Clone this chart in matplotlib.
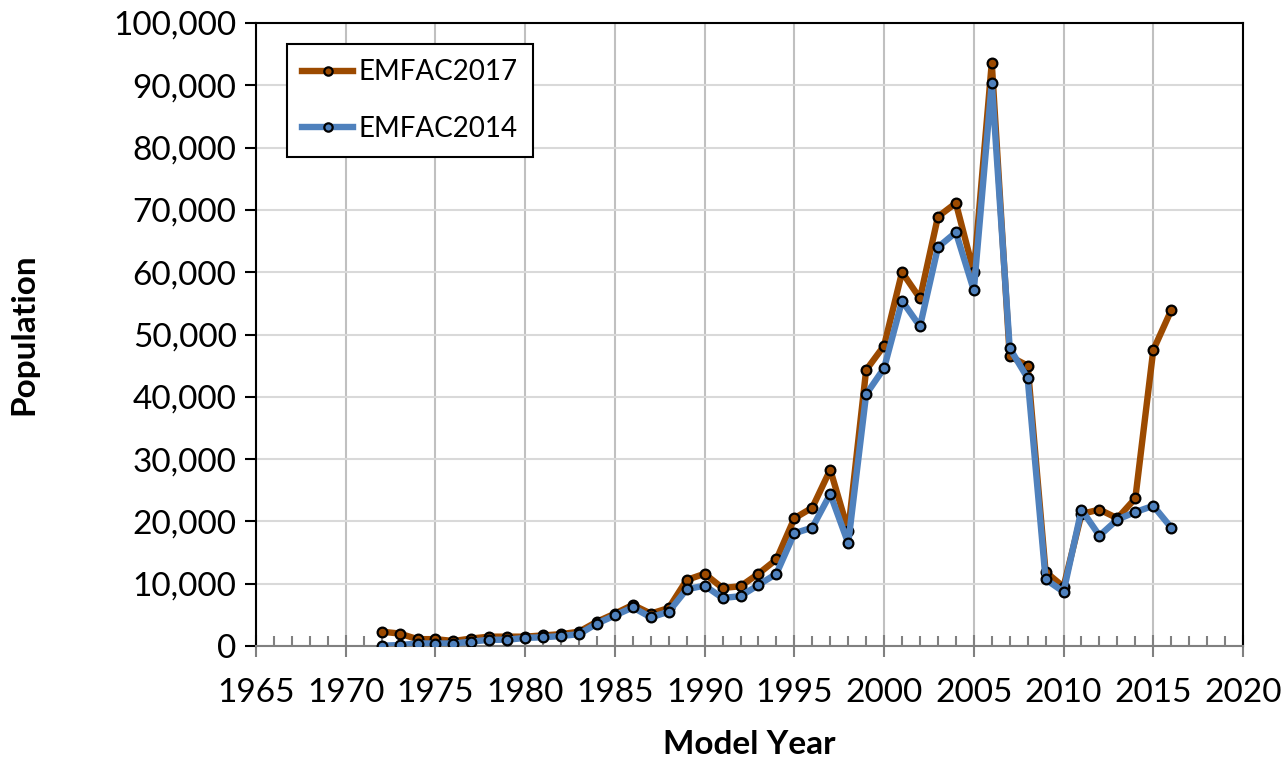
import matplotlib
matplotlib.use("Agg")
import matplotlib.pyplot as plt
from matplotlib.ticker import MultipleLocator, FuncFormatter

# model years and population per model year
years = list(range(1972, 2017))

emfac2017 = [2300, 2000, 1100, 1100, 800, 1200, 1500, 1500, 1500, 1700,
             1900, 2300, 3900, 5200, 6600, 5200, 6100, 10600, 11600, 9300,
             9600, 11600, 13900, 20500, 22200, 28300, 18500, 44300, 48200, 60000,
             55800, 68900, 71100, 60000, 93600, 46500, 45000, 11900, 9500, 21200,
             21900, 20500, 23700, 47500, 53900]

emfac2014 = [50, 150, 400, 400, 400, 700, 1000, 1000, 1300, 1400,
             1600, 1900, 3600, 4900, 6200, 4600, 5500, 9100, 9700, 7700,
             8000, 9800, 11600, 18100, 19000, 24400, 16500, 40400, 44600, 55400,
             51300, 64000, 66400, 57100, 90400, 47800, 43000, 10700, 8700, 21900,
             17700, 20300, 21500, 22500, 19000]

series_labels = ["EMFAC2017", "EMFAC2014"]

plt.rcParams['font.family'] = ['Lato', 'DejaVu Sans']

fig = plt.figure(figsize=(12.85, 7.62), dpi=100)
ax = fig.add_axes([256 / 1285, 1 - 646 / 762, (1243 - 256) / 1285, (646 - 23) / 762])

ax.plot(years, emfac2017, color='#9c4a00', lw=4.6, marker='o', ms=7,
        mfc='#9c4a00', mec='black', mew=1.6, label=series_labels[0], zorder=3)
ax.plot(years, emfac2014, color='#4f81bd', lw=4.6, marker='o', ms=7,
        mfc='#4f81bd', mec='black', mew=1.6, label=series_labels[1], zorder=4)

ax.set_xlim(1965, 2020)
ax.set_ylim(0, 100000)
ax.xaxis.set_major_locator(MultipleLocator(5))
ax.xaxis.set_minor_locator(MultipleLocator(1))
ax.yaxis.set_major_locator(MultipleLocator(10000))
ax.yaxis.set_major_formatter(FuncFormatter(lambda v, p: f"{int(v):,}"))

ax.grid(axis='y', color='#d9d9d9', lw=1.5, zorder=0)
ax.grid(axis='x', color='#c0c0c0', lw=1.5, zorder=0)
ax.set_axisbelow(True)

for side in ['left', 'top', 'right']:
    ax.spines[side].set_color('black')
    ax.spines[side].set_linewidth(1.5)
ax.spines['bottom'].set_color('#808080')
ax.spines['bottom'].set_linewidth(1.5)

ax.tick_params(axis='x', which='major', direction='inout', length=16, width=1.5,
               color='#808080', labelsize=24, pad=15)
ax.tick_params(axis='x', which='minor', direction='in', length=7, width=1.5,
               color='#808080')
ax.tick_params(axis='y', which='major', direction='out', length=8, width=1.5,
               color='black', labelsize=24, pad=6)

ax.set_xlabel("Model Year", fontsize=24, fontweight='bold', labelpad=16)
ax.set_ylabel("Population", fontsize=24, fontweight='bold', labelpad=54)

leg = ax.legend(loc='upper left', bbox_to_anchor=(0.031, 0.966), fontsize=20,
                frameon=True, fancybox=False, edgecolor='black', framealpha=1,
                borderaxespad=0, handlelength=1.85, borderpad=0.55,
                labelspacing=1.1, handletextpad=0.2)
leg.get_frame().set_linewidth(1.5)
for h in leg.legend_handles:
    h.set_markersize(6)

fig.savefig("out.png", dpi=100)
